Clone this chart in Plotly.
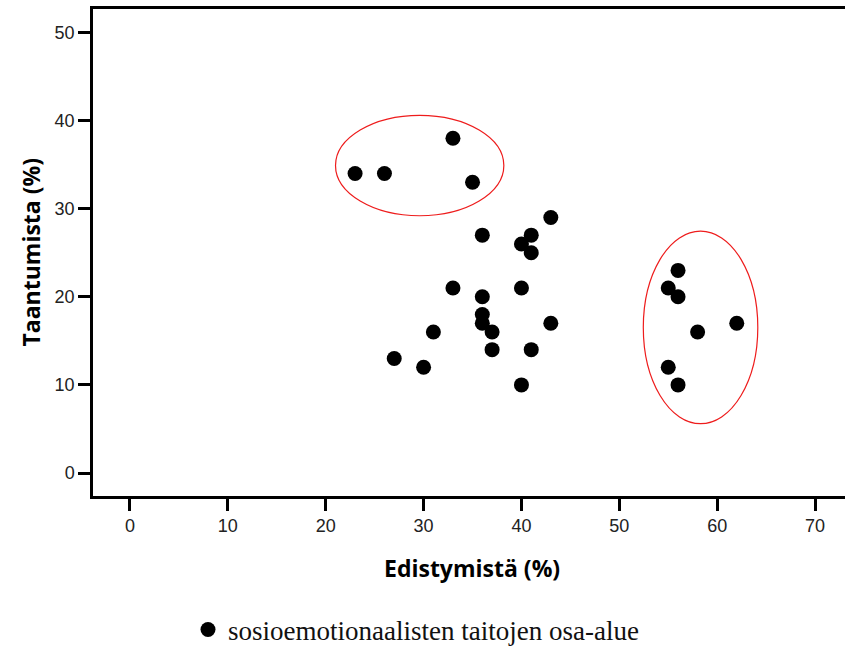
import plotly.graph_objects as go

# Progress (%) and regression (%) per sub-area
edistyminen = [23, 26, 33, 35,
               43, 36, 41, 40, 41, 33, 40, 36, 36, 36, 37, 43, 31, 37, 41, 27, 30, 40,
               56, 55, 56, 62, 58, 55, 56]
taantuminen = [34, 34, 38, 33,
               29, 27, 27, 26, 25, 21, 21, 20, 18, 17, 16, 17, 16, 14, 14, 13, 12, 10,
               23, 21, 20, 17, 16, 12, 10]

series_name = "sosioemotionaalisten taitojen osa-alue"
x_title = "Edistymistä (%)"
y_title = "Taantumista (%)"
tick_vals = [0, 10, 20, 30, 40, 50, 60, 70]
y_tick_vals = [0, 10, 20, 30, 40, 50]

# Highlighted groups (x0, x1, y0, y1)
groups = [(21.0, 38.2, 29.2, 40.6), (52.45, 64.15, 5.6, 27.45)]

fig = go.Figure()
fig.add_trace(go.Scatter(
    x=edistyminen, y=taantuminen, mode="markers", name=series_name,
    marker=dict(size=15, color="black", line=dict(width=0)),
    showlegend=True,
))

for gx0, gx1, gy0, gy1 in groups:
    fig.add_shape(type="circle", xref="x", yref="y", x0=gx0, x1=gx1, y0=gy0, y1=gy1,
                  line=dict(color="#ee1c1c", width=1.2), layer="below")

axis_font = dict(family="Liberation Sans, Arial, sans-serif", size=18, color="#222")
title_font = dict(family="Open Sans, sans-serif", size=23, color="black")

fig.update_layout(
    width=845, height=646,
    margin=dict(l=93, r=0, t=9, b=150, autoexpand=False),
    paper_bgcolor="white", plot_bgcolor="white",
    showlegend=True,
    legend=dict(
        orientation="h",
        xref="paper", yref="paper", x=(188 - 93) / 752, y=(496 - 630) / 487,
        xanchor="left", yanchor="middle",
        font=dict(family="Liberation Serif, DejaVu Serif, serif", size=27, color="#111"),
        bgcolor="rgba(0,0,0,0)",
    ),
    xaxis=dict(
        range=[-3.78, 73.06], tickvals=tick_vals, ticks="outside", ticklen=12, tickwidth=3,
        tickcolor="black", showline=True, linecolor="black", linewidth=2.5, mirror=True,
        showgrid=False, zeroline=False, tickfont=axis_font,
    ),
    yaxis=dict(
        range=[-2.61, 52.67], tickvals=y_tick_vals, ticks="outside", ticklen=12, tickwidth=3,
        tickcolor="black", showline=True, linecolor="black", linewidth=2.5, mirror=False,
        showgrid=False, zeroline=False, tickfont=axis_font,
    ),
    annotations=[
        dict(text="<b>%s</b>" % x_title, xref="paper", yref="paper", x=(472 - 93) / 752,
             y=(496 - 568) / 487, showarrow=False, xanchor="center", yanchor="middle",
             font=title_font),
        dict(text="<b>%s</b>" % y_title, xref="paper", yref="paper", x=(30 - 93) / 752,
             y=0.5, showarrow=False, xanchor="center", yanchor="middle", textangle=-90,
             font=title_font),
    ],
)

fig.write_html("out.html")
